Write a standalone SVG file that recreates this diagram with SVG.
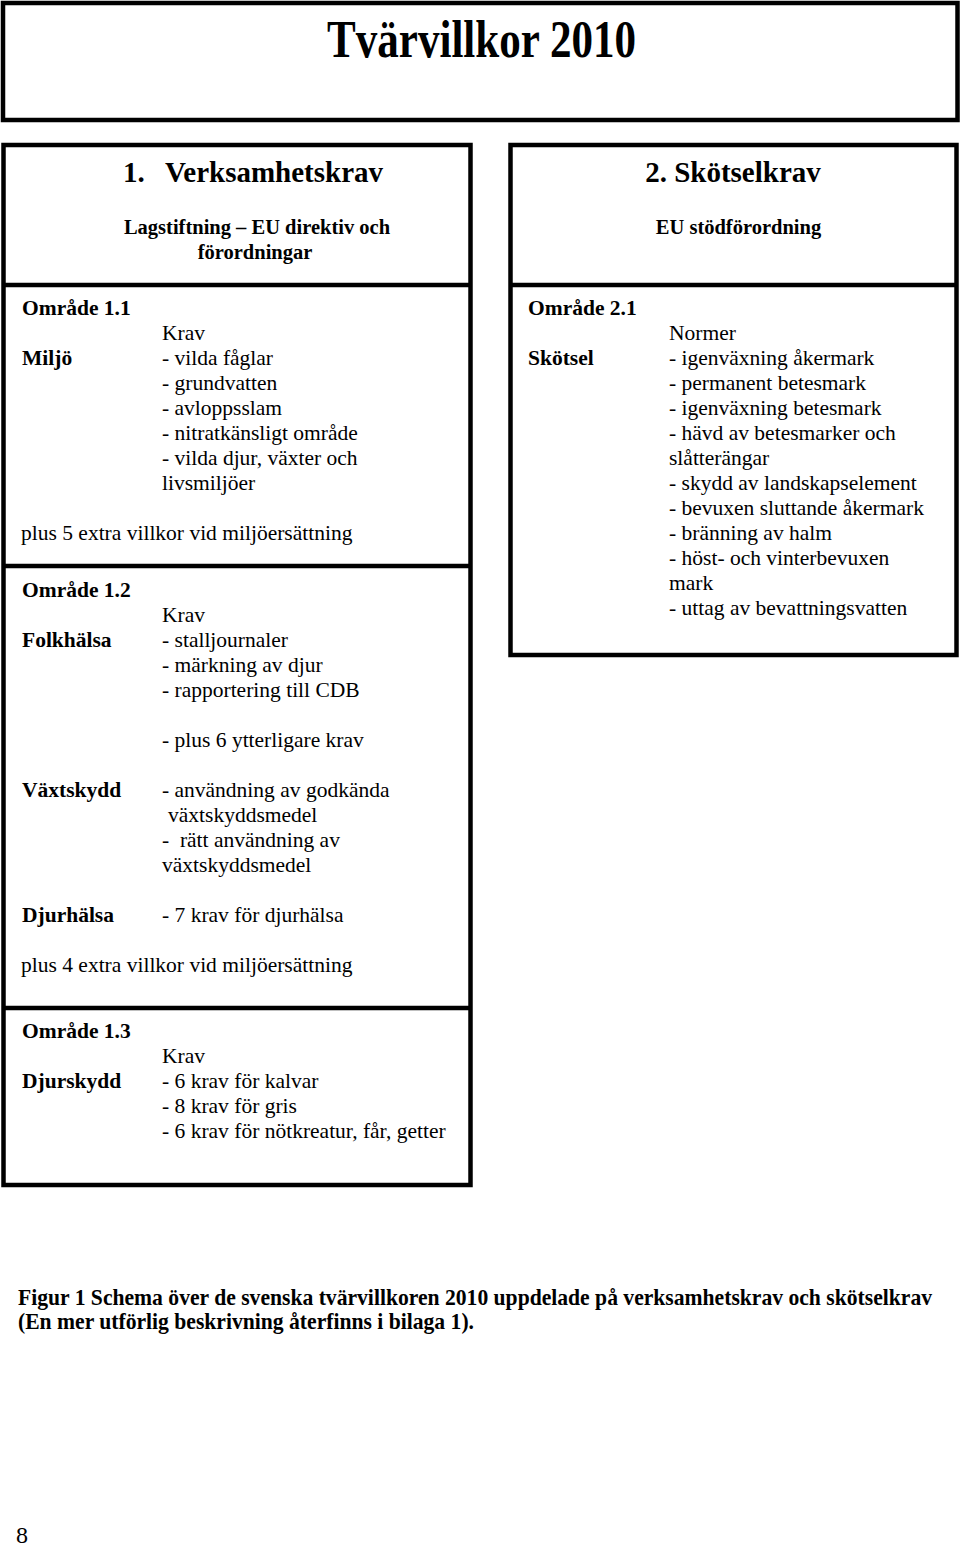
<svg xmlns="http://www.w3.org/2000/svg" width="960" height="1546" viewBox="0 0 960 1546">
<style>
.box{fill:none;stroke:#000;stroke-width:4.5}
.div{stroke:#000;stroke-width:4.5}
text{font-family:"Liberation Serif","Times New Roman",serif;fill:#000}
.b{font-weight:bold}
.t{font-size:21.5px}
.h1{font-size:29px;font-weight:bold}
.h2{font-size:20.5px;font-weight:bold}
.mid{text-anchor:middle}
</style>
<rect width="960" height="1546" fill="#fff"/>
<g id="title">
<rect class="box" x="3" y="3" width="954.5" height="117"/>
<text class="b mid" x="481.5" y="57" font-size="52" textLength="309" lengthAdjust="spacingAndGlyphs">Tvärvillkor 2010</text>
</g>
<g id="verksamhetskrav">
<rect class="box" x="3.5" y="145" width="467" height="1040"/>
<line class="div" x1="3.5" y1="285" x2="470.5" y2="285"/>
<line class="div" x1="3.5" y1="566" x2="470.5" y2="566"/>
<line class="div" x1="3.5" y1="1008" x2="470.5" y2="1008"/>
<text class="h1" x="123" y="182">1.</text>
<text class="h1" x="165" y="182">Verksamhetskrav</text>
<text class="h2 mid" x="257" y="234">Lagstiftning – EU direktiv och</text>
<text class="h2 mid" x="255" y="259">förordningar</text>
</g>
<g id="omrade-1-1">
<text class="t b" x="22" y="315">Område 1.1</text>
<text class="t" x="162" y="340">Krav</text>
<text class="t b" x="22" y="365">Miljö</text>
<text class="t" x="162" y="365">- vilda fåglar</text>
<text class="t" x="162" y="390">- grundvatten</text>
<text class="t" x="162" y="415">- avloppsslam</text>
<text class="t" x="162" y="440">- nitratkänsligt område</text>
<text class="t" x="162" y="465">- vilda djur, växter och</text>
<text class="t" x="162" y="490">livsmiljöer</text>
<text class="t" x="21" y="540">plus 5 extra villkor vid miljöersättning</text>
</g>
<g id="omrade-1-2">
<text class="t b" x="22" y="597">Område 1.2</text>
<text class="t" x="162" y="622">Krav</text>
<text class="t b" x="22" y="647">Folkhälsa</text>
<text class="t" x="162" y="647">- stalljournaler</text>
<text class="t" x="162" y="672">- märkning av djur</text>
<text class="t" x="162" y="697">- rapportering till CDB</text>
<text class="t" x="162" y="747">- plus 6 ytterligare krav</text>
<text class="t b" x="22" y="797">Växtskydd</text>
<text class="t" x="162" y="797">- användning av godkända</text>
<text class="t" x="168" y="822">växtskyddsmedel</text>
<text class="t" x="162" y="847" xml:space="preserve">-  rätt användning av</text>
<text class="t" x="162" y="872">växtskyddsmedel</text>
<text class="t b" x="22" y="922">Djurhälsa</text>
<text class="t" x="162" y="922">- 7 krav för djurhälsa</text>
<text class="t" x="21" y="972">plus 4 extra villkor vid miljöersättning</text>
</g>
<g id="omrade-1-3">
<text class="t b" x="22" y="1038">Område 1.3</text>
<text class="t" x="162" y="1063">Krav</text>
<text class="t b" x="22" y="1088">Djurskydd</text>
<text class="t" x="162" y="1088">- 6 krav för kalvar</text>
<text class="t" x="162" y="1113">- 8 krav för gris</text>
<text class="t" x="162" y="1138">- 6 krav för nötkreatur, får, getter</text>
</g>
<g id="skotselkrav">
<rect class="box" x="510.5" y="145" width="446" height="510"/>
<line class="div" x1="510.5" y1="285" x2="956.5" y2="285"/>
<text class="h1 mid" x="733" y="182">2. Skötselkrav</text>
<text class="h2 mid" x="738.5" y="234">EU stödförordning</text>
</g>
<g id="omrade-2-1">
<text class="t b" x="528" y="315">Område 2.1</text>
<text class="t" x="669" y="340">Normer</text>
<text class="t b" x="528" y="365">Skötsel</text>
<text class="t" x="669" y="365">- igenväxning åkermark</text>
<text class="t" x="669" y="390">- permanent betesmark</text>
<text class="t" x="669" y="415">- igenväxning betesmark</text>
<text class="t" x="669" y="440">- hävd av betesmarker och</text>
<text class="t" x="669" y="465">slåtterängar</text>
<text class="t" x="669" y="490">- skydd av landskapselement</text>
<text class="t" x="669" y="515">- bevuxen sluttande åkermark</text>
<text class="t" x="669" y="540">- bränning av halm</text>
<text class="t" x="669" y="565">- höst- och vinterbevuxen</text>
<text class="t" x="669" y="590">mark</text>
<text class="t" x="669" y="615">- uttag av bevattningsvatten</text>
</g>
<g id="connectors"></g>
<g id="caption">
<text class="b" transform="translate(18,1305) scale(1,1.1)" x="0" y="0" font-size="21.5" textLength="914" lengthAdjust="spacingAndGlyphs">Figur 1 Schema över de svenska tvärvillkoren 2010 uppdelade på verksamhetskrav och skötselkrav</text>
<text class="b" transform="translate(18,1329) scale(1,1.1)" x="0" y="0" font-size="21.5" textLength="456" lengthAdjust="spacingAndGlyphs">(En mer utförlig beskrivning återfinns i bilaga 1).</text>
</g>
<g id="page-number">
<text x="16" y="1543" font-size="24">8</text>
</g>
</svg>
